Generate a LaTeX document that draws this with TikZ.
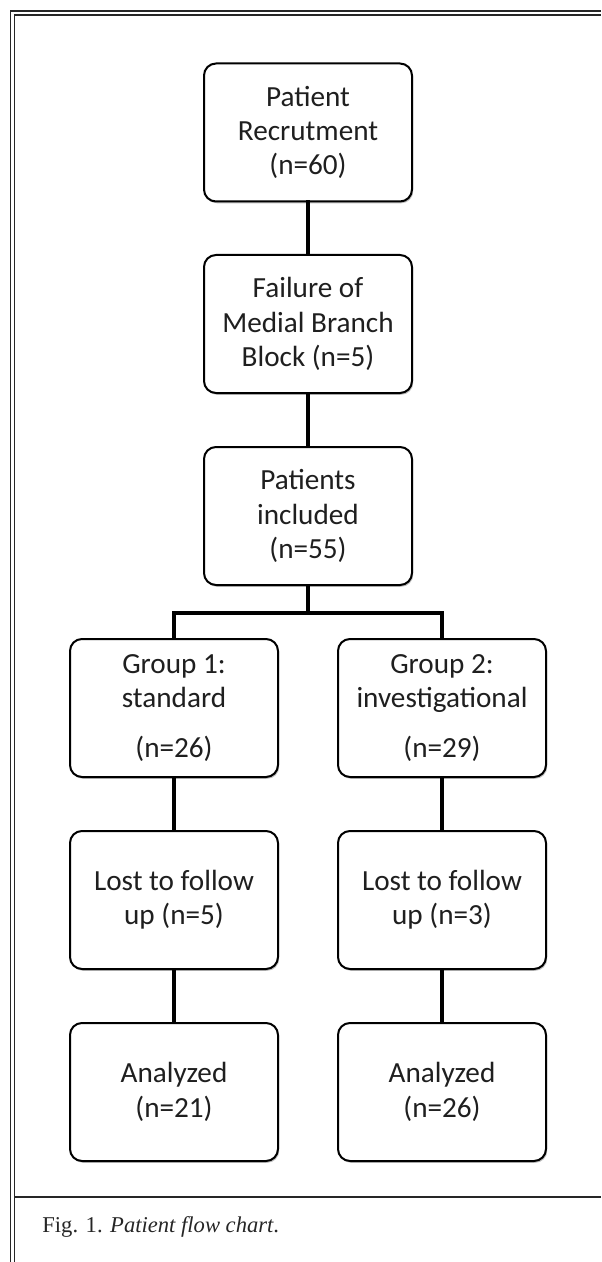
\documentclass[tikz,border=0pt]{standalone}
\usepackage{fontspec}
\setmainfont{Liberation Serif}
\newfontfamily\boxfont{Carlito}
\usetikzlibrary{shadows}
\tikzset{
  x=0.5pt, y=-0.5pt,
  flowbox/.style={draw, fill=white, line width=1pt, rounded corners=6pt,
    minimum width=104pt, minimum height=69pt, inner sep=0pt, align=center,
    text=black!88,
    font=\boxfont\fontsize{14.6}{17.2}\selectfont,
    drop shadow={shadow xshift=0.6pt, shadow yshift=-0.9pt, opacity=0.25, fill=black}},
  conn/.style={line width=2.3pt, line cap=rect},
  frameouter/.style={line width=0.9pt, black!85},
  frameinner/.style={line width=0.6pt, black!85}
}
\begin{document}
\begin{tikzpicture}
\useasboundingbox (0,0) rectangle (601,1262);
% frame
\draw[frameouter] (10.5,1262) -- (10.5,11) -- (601,11);
\draw[frameinner] (14.5,1262) -- (14.5,15) -- (601,15);
\draw[frameouter] (14.5,1197) -- (601,1197);
% boxes
\node[flowbox] (rec) at (308,132.5) {Patient\\Recrutment\\(n=60)};
\node[flowbox] (fail) at (308,324) {Failure of\\Medial Branch\\Block (n=5)};
\node[flowbox] (inc) at (308,516) {Patients\\included\\(n=55)};
\node[flowbox] (g1) at (174,708) {Group 1:\\standard\\[8pt](n=26)};
\node[flowbox] (g2) at (442,708) {Group 2:\\investigational\\[8pt](n=29)};
\node[flowbox] (l1) at (174,900) {Lost to follow\\up (n=5)};
\node[flowbox] (l2) at (442,900) {Lost to follow\\up (n=3)};
\node[flowbox] (a1) at (174,1092) {Analyzed\\(n=21)};
\node[flowbox] (a2) at (442,1092) {Analyzed\\(n=26)};
\coordinate (split) at (308,613);
% connectors
\draw[conn] (rec.south) -- (fail.north);
\draw[conn] (fail.south) -- (inc.north);
\draw[conn] (inc.south) -- (split);
\draw[conn] (g1.north) |- (split) -| (g2.north);
\draw[conn] (g1.south) -- (l1.north);
\draw[conn] (g2.south) -- (l2.north);
\draw[conn] (l1.south) -- (a1.north);
\draw[conn] (l2.south) -- (a2.north);
% caption
\node[anchor=base west, inner sep=0pt, text=black!85, font=\fontsize{11.3}{13}\selectfont] (cap) at (42,1232) {Fig. 1. \textit{Patient flow chart}.};
\end{tikzpicture}
\end{document}
